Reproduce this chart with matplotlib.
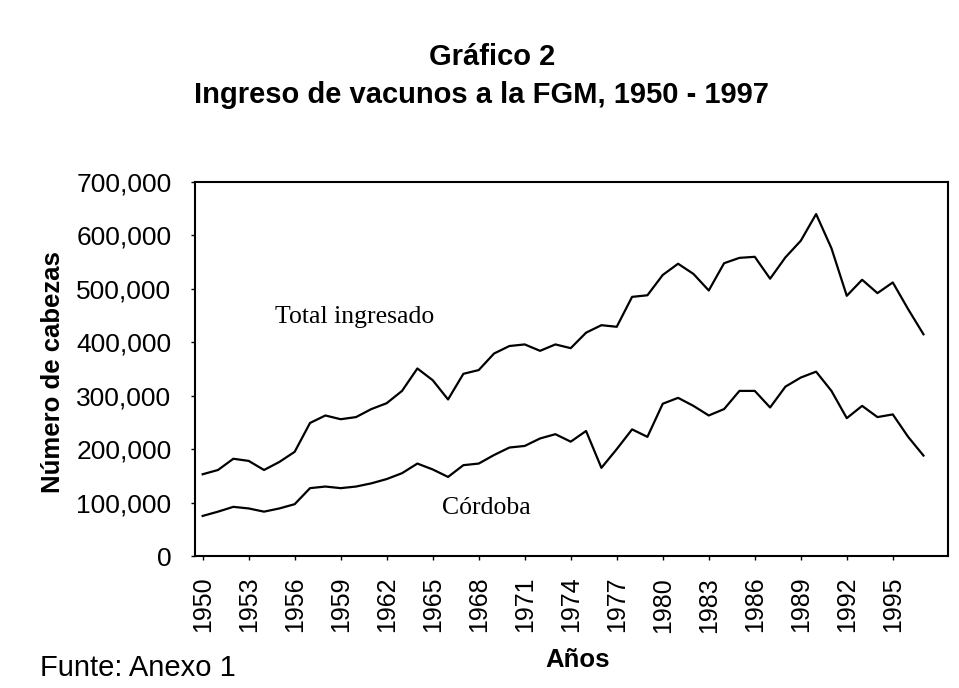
import matplotlib
matplotlib.use("Agg")
import matplotlib.pyplot as plt
from matplotlib.ticker import FuncFormatter

years = list(range(1950, 1998))
total = [153, 161, 182, 178, 161, 176, 195, 249, 263, 256,
         260, 275, 286, 309, 351, 329, 293, 341, 348, 379,
         393, 396, 384, 396, 389, 418, 432, 429, 485, 488,
         526, 547, 528, 497, 548, 558, 560, 519, 559, 590,
         640, 576, 487, 517, 492, 512, 462, 415]
cordoba = [75, 83, 92, 89, 83, 89, 97, 127, 130, 127,
           130, 136, 144, 155, 173, 162, 148, 170, 173, 189,
           203, 206, 220, 228, 214, 234, 165, 200, 237, 223,
           285, 296, 281, 263, 275, 309, 309, 278, 317, 334,
           345, 309, 258, 281, 260, 265, 223, 188]
total = [v * 1000 for v in total]
cordoba = [v * 1000 for v in cordoba]
xtick_years = list(range(1950, 1996, 3))
yticks = list(range(0, 700001, 100000))

W, H = 959, 688
fig = plt.figure(figsize=(W / 100, H / 100), dpi=100)
ax = fig.add_axes([195 / W, 1 - 556 / H, (948 - 195) / W, (556 - 182) / H])

ax.plot(years, total, color="black", lw=1.6)
ax.plot(years, cordoba, color="black", lw=1.6)

ax.set_xlim(1949.5, 1998.6)
ax.set_ylim(0, 700000)
ax.set_xticks(xtick_years)
ax.set_xticklabels([str(y) for y in xtick_years], rotation=90,
                   fontsize=18, family="Liberation Sans")
ax.set_yticks(yticks)
ax.yaxis.set_major_formatter(FuncFormatter(lambda v, p: f"{int(v):,}"))
for lab in ax.get_yticklabels():
    lab.set_family("Liberation Sans")
    lab.set_fontsize(19)
ax.tick_params(axis="y", length=3, width=1, pad=14, direction="out")
ax.tick_params(axis="x", length=3, width=1, pad=12, direction="out")
for s in ax.spines.values():
    s.set_linewidth(1.5)
    s.set_color("black")

ax.text(1954.7, 447000, "Total ingresado", family="Liberation Serif",
        fontsize=18.5, ha="left", va="center")
ax.text(1965.6, 90000, "Córdoba", family="Liberation Serif",
        fontsize=18.5, ha="left", va="center")

fig.text(492 / W, 1 - 57 / H, "Gráfico 2", family="Liberation Sans",
         fontweight="bold", fontsize=21, ha="center", va="center")
fig.text(481 / W, 1 - 95 / H, "Ingreso de vacunos a la FGM, 1950 - 1997",
         family="Liberation Sans", fontweight="bold", fontsize=21,
         ha="center", va="center")
fig.text(53 / W, 1 - 372 / H, "Número de cabezas", family="Liberation Sans",
         fontweight="bold", fontsize=18.5, rotation=90, ha="center", va="center")
fig.text(578 / W, 1 - 660 / H, "Años", family="Liberation Sans",
         fontweight="bold", fontsize=18.5, ha="center", va="center")
fig.text(40 / W, 1 - 668 / H, "Funte: Anexo 1", family="Liberation Sans",
         fontsize=21, ha="left", va="center")

fig.savefig("out.png", dpi=100)
